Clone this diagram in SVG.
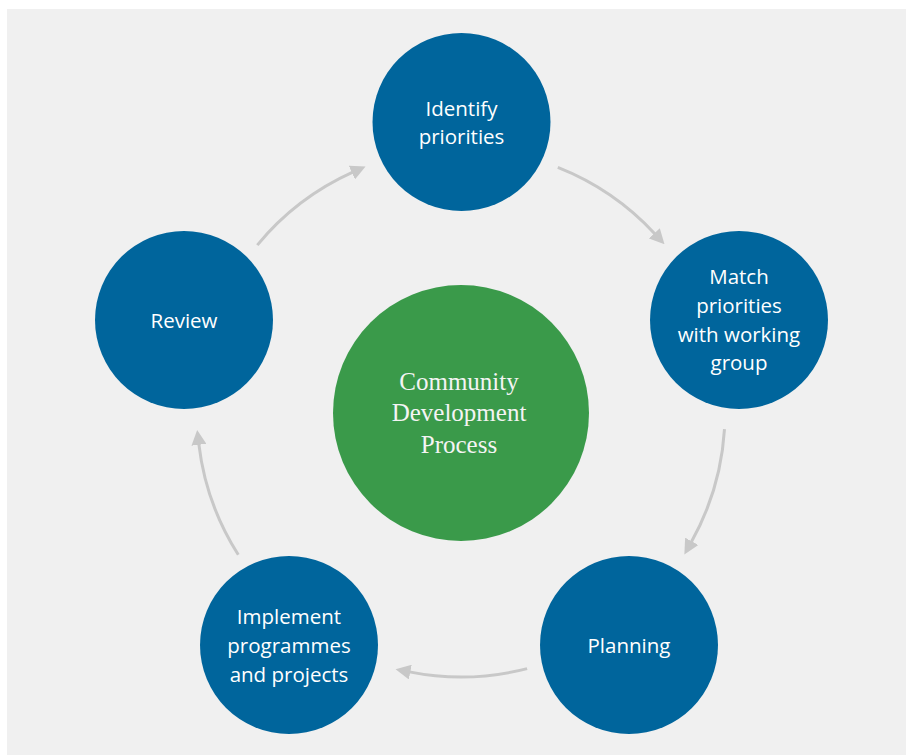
<svg xmlns="http://www.w3.org/2000/svg" width="906" height="755" viewBox="0 0 906 755">
<defs>
<marker id="ah" markerUnits="userSpaceOnUse" viewBox="0 0 15 15" markerWidth="15" markerHeight="15" refX="1" refY="7.5" orient="auto">
<path d="M0,0 L15,7.5 L0,15 z" fill="#c8c8c8"/>
</marker>
<style>
.step{fill:#00659c}
.lbl{font-family:"Open Sans","Liberation Sans",sans-serif;font-size:20.5px;fill:#ffffff;text-anchor:middle}
.ctr{font-family:"Liberation Serif","DejaVu Serif",serif;font-size:25px;fill:#f4f4f4;text-anchor:middle}
.arc{fill:none;stroke:#c8c8c8;stroke-width:3;marker-end:url(#ah)}
</style>
</defs>
<rect x="7" y="9" width="899" height="746" fill="#f0f0f0"/>
<g id="connectors">
<path class="arc" d="M257.3,245.1 A264,264 0 0 1 352.8,172.2"/>
<path class="arc" d="M557.8,167.4 A264,264 0 0 1 655.0,234.0"/>
<path class="arc" d="M724.5,429.1 A264,264 0 0 1 691.2,542.2"/>
<path class="arc" d="M527.1,668.6 A264,264 0 0 1 409.3,671.9"/>
<path class="arc" d="M238.3,554.8 A264,264 0 0 1 198.8,443.8"/>
</g>
<g id="center">
<circle cx="461" cy="413" r="128" fill="#3a9a4a"/>
<text class="ctr" x="459" y="390">Community</text>
<text class="ctr" x="459" y="421">Development</text>
<text class="ctr" x="459" y="453">Process</text>
</g>
<g id="identify">
<circle class="step" cx="461.5" cy="122" r="89"/>
<text class="lbl" x="461.5" y="116">Identify</text>
<text class="lbl" x="461.5" y="144">priorities</text>
</g>
<g id="match">
<circle class="step" cx="739" cy="320" r="89"/>
<text class="lbl" x="739" y="284">Match</text>
<text class="lbl" x="739" y="313">priorities</text>
<text class="lbl" x="739" y="342">with working</text>
<text class="lbl" x="739" y="370">group</text>
</g>
<g id="planning">
<circle class="step" cx="629" cy="645" r="89"/>
<text class="lbl" x="629" y="653">Planning</text>
</g>
<g id="implement">
<circle class="step" cx="289" cy="645" r="89"/>
<text class="lbl" x="289" y="624">Implement</text>
<text class="lbl" x="289" y="653">programmes</text>
<text class="lbl" x="289" y="682">and projects</text>
</g>
<g id="review">
<circle class="step" cx="184" cy="320" r="89"/>
<text class="lbl" x="184" y="328">Review</text>
</g>
</svg>
